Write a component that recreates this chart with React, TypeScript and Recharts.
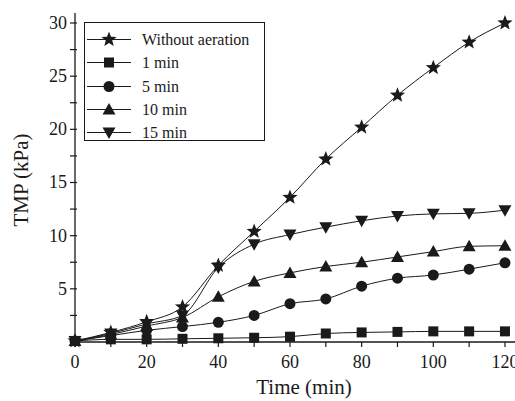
import { LineChart, Line, XAxis, YAxis, Label } from 'recharts';

const time = [0, 10, 20, 30, 40, 50, 60, 70, 80, 90, 100, 110, 120];
const withoutAeration = [0.1, 0.9, 1.9, 3.3, 7.2, 10.4, 13.6, 17.2, 20.2, 23.2, 25.8, 28.2, 30.0];
const oneMin = [0.1, 0.25, 0.25, 0.3, 0.35, 0.4, 0.5, 0.8, 0.9, 0.95, 1.0, 1.0, 1.0];
const fiveMin = [0.1, 0.6, 1.1, 1.45, 1.85, 2.5, 3.6, 4.05, 5.25, 6.0, 6.3, 6.85, 7.45];
const tenMin = [0.1, 0.7, 1.5, 2.3, 4.25, 5.7, 6.5, 7.1, 7.5, 8.0, 8.5, 9.0, 9.05];
const fifteenMin = [0.1, 0.8, 1.7, 2.5, 7.0, 9.2, 10.1, 10.8, 11.4, 11.85, 12.05, 12.1, 12.4];

const xTicks = [0, 10, 20, 30, 40, 50, 60, 70, 80, 90, 100, 110, 120];
const yTicks = [2.5, 5, 7.5, 10, 12.5, 15, 17.5, 20, 22.5, 25, 27.5, 30];

type Shape = 'star' | 'square' | 'circle' | 'up' | 'down';

const series: { key: string; name: string; shape: Shape; values: number[] }[] = [
  { key: 'none', name: 'Without aeration', shape: 'star', values: withoutAeration },
  { key: 'm1', name: '1 min', shape: 'square', values: oneMin },
  { key: 'm5', name: '5 min', shape: 'circle', values: fiveMin },
  { key: 'm10', name: '10 min', shape: 'up', values: tenMin },
  { key: 'm15', name: '15 min', shape: 'down', values: fifteenMin },
];

const data = time.map((t, i) => {
  const row: Record<string, number> = { t };
  series.forEach((s) => (row[s.key] = s.values[i]));
  return row;
});

const INK = '#1a1a1a';
const FONT = '"Liberation Serif", "Times New Roman", serif';

function markerPath(shape: Shape, cx: number, cy: number): string {
  if (shape === 'star') {
    const pts: string[] = [];
    for (let k = 0; k < 10; k++) {
      const r = k % 2 === 0 ? 8 : 3.4;
      const a = -Math.PI / 2 + (k * Math.PI) / 5;
      pts.push(`${cx + r * Math.cos(a)},${cy + r * Math.sin(a)}`);
    }
    return `M${pts.join('L')}Z`;
  }
  if (shape === 'square') return `M${cx - 5},${cy - 5}h10v10h-10Z`;
  if (shape === 'up') return `M${cx},${cy - 6.5}L${cx + 6.5},${cy + 5}L${cx - 6.5},${cy + 5}Z`;
  if (shape === 'down') return `M${cx},${cy + 6.5}L${cx + 6.5},${cy - 5}L${cx - 6.5},${cy - 5}Z`;
  return `M${cx - 5.5},${cy}a5.5,5.5 0 1,0 11,0a5.5,5.5 0 1,0 -11,0Z`;
}

const makeDot = (shape: Shape) => (props: any) => {
  const { cx, cy, index } = props;
  if (cx == null || cy == null) return <g key={index} />;
  return <path key={index} d={markerPath(shape, cx, cy)} fill={INK} stroke="none" />;
};

const BottomTick = (props: any) => {
  const { x, y, payload } = props;
  const v = payload.value;
  return (
    <g>
      <line x1={x} x2={x} y1={y} y2={y + 5} stroke={INK} strokeWidth={1.2} />
      {v % 20 === 0 && (
        <text x={x} y={y + 26} textAnchor="middle" fontSize={18} fontFamily={FONT} fill={INK}>
          {v}
        </text>
      )}
    </g>
  );
};

const TopTick = (props: any) => {
  const { x, y } = props;
  return <line x1={x} x2={x} y1={y} y2={y + 4} stroke={INK} strokeWidth={1.2} />;
};

const LeftTick = (props: any) => {
  const { x, y, payload } = props;
  const v = payload.value;
  const major = v % 5 === 0;
  return (
    <g>
      <line x1={x - 5} x2={x + 2} y1={y} y2={y} stroke={INK} strokeWidth={1.2} />
      {major && (
        <text x={x - 8} y={y + 6} textAnchor="end" fontSize={18} fontFamily={FONT} fill={INK}>
          {v}
        </text>
      )}
    </g>
  );
};

const LegendBox = () => (
  <div
    style={{
      position: 'absolute',
      left: 84,
      top: 22,
      width: 177,
      height: 112,
      border: `1px solid ${INK}`,
      padding: '5px 0 0 2px',
      background: '#fff',
      fontFamily: FONT,
      fontSize: 16,
      color: INK,
    }}
  >
    {series.map((s) => (
      <div key={s.key} style={{ display: 'flex', alignItems: 'center', height: 23.3 }}>
        <svg width={44} height={23} style={{ display: 'block' }}>
          <line x1={0} x2={44} y1={11.5} y2={11.5} stroke={INK} strokeWidth={1} />
          <path d={markerPath(s.shape, 22, 11.5)} fill={INK} />
        </svg>
        <span style={{ marginLeft: 11, lineHeight: '23px' }}>{s.name}</span>
      </div>
    ))}
  </div>
);

export default function App() {
  return (
    <div style={{ position: 'absolute', left: 0, top: 0, width: 515, height: 401, background: '#fff' }}>
      <LineChart width={515} height={401} data={data} margin={{ top: 13, right: 0, bottom: 0, left: 0 }}>
        <XAxis
          xAxisId="bottom"
          dataKey="t"
          type="number"
          domain={[0, 122.8]}
          ticks={xTicks}
          interval={0}
          height={59}
          tickSize={0}
          tickMargin={0}
          tickLine={false}
          axisLine={{ stroke: INK, strokeWidth: 1.3 }}
          tick={BottomTick}
        >
          <Label
            content={() => (
              <text x={304} y={394} textAnchor="middle" fontSize={21} fontFamily={FONT} fill={INK}>
                Time (min)
              </text>
            )}
          />
        </XAxis>
        <XAxis
          xAxisId="top"
          orientation="top"
          dataKey="t"
          type="number"
          domain={[0, 122.8]}
          ticks={xTicks}
          interval={0}
          height={0}
          tickSize={0}
          tickMargin={0}
          tickLine={false}
          axisLine={{ stroke: INK, strokeWidth: 1.3 }}
          tick={TopTick}
        />
        <YAxis
          type="number"
          domain={[0, 30.94]}
          ticks={yTicks}
          interval={0}
          width={75}
          tickSize={0}
          tickMargin={0}
          tickLine={false}
          axisLine={{ stroke: INK, strokeWidth: 1.3 }}
          tick={LeftTick}
        >
          <Label
            content={() => (
              <text
                x={21}
                y={180}
                transform="rotate(-90 21 180)"
                textAnchor="middle"
                dominantBaseline="central"
                fontSize={21}
                fontFamily={FONT}
                fill={INK}
              >
                TMP (kPa)
              </text>
            )}
          />
        </YAxis>
        {series.map((s) => (
          <Line
            key={s.key}
            xAxisId="bottom"
            dataKey={s.key}
            name={s.name}
            type="monotone"
            stroke={INK}
            strokeWidth={1}
            dot={makeDot(s.shape)}
            activeDot={false}
            isAnimationActive={false}
          />
        ))}
      </LineChart>
      <LegendBox />
    </div>
  );
}
